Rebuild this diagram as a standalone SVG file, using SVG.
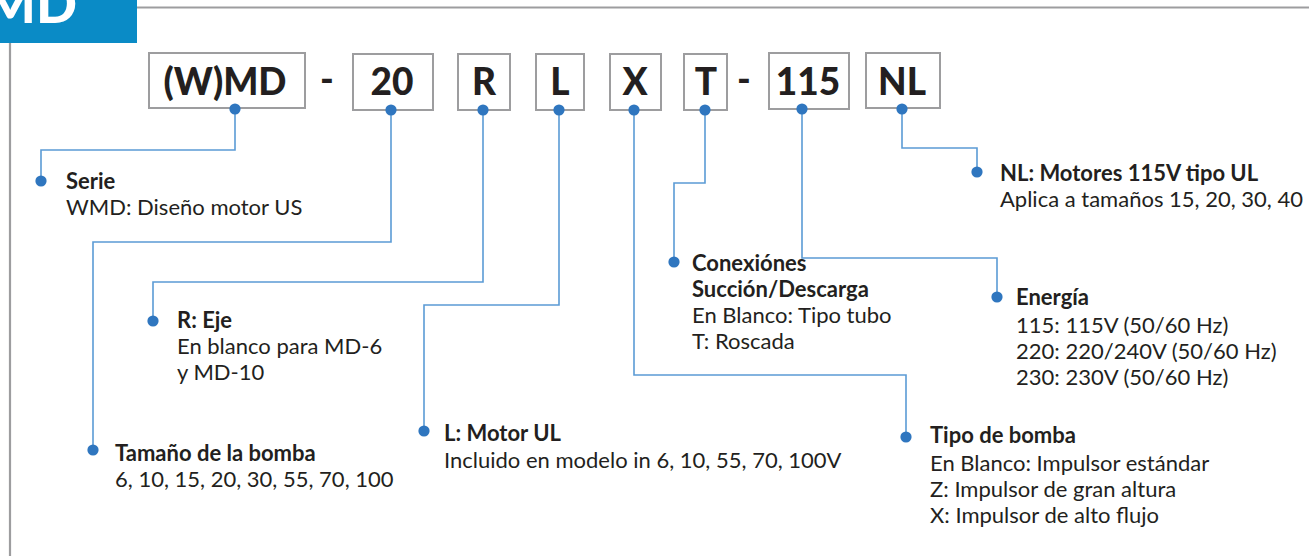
<svg xmlns="http://www.w3.org/2000/svg" width="1309" height="556" viewBox="0 0 1309 556">
<style>
.frame{stroke:#9d9d9f;stroke-width:2.2;fill:none}
.box{fill:#fff;stroke:#9d9d9f;stroke-width:2}
.code{font-family:Lato,"Open Sans",sans-serif;font-weight:900;font-size:37px;fill:#231f20;text-anchor:middle}
.t{font-family:Lato,"Open Sans",sans-serif;font-size:22px;fill:#231f20}
.b{font-weight:700}
.con{fill:none;stroke:#5b9bd5;stroke-width:1.6;marker-start:url(#dot);marker-end:url(#dot)}
</style>
<defs>
<marker id="dot" viewBox="0 0 12 12" refX="6" refY="6" markerWidth="12" markerHeight="12" markerUnits="userSpaceOnUse"><circle cx="6" cy="6" r="5.6" fill="#2f76bf"/></marker>
<clipPath id="clipBlue"><rect x="0" y="0" width="137" height="43"/></clipPath>
</defs>
<rect width="1309" height="556" fill="#fff"/>
<g id="frame">
<rect x="0" y="0" width="137" height="43" fill="#0a8bc6"/>
<text x="77" y="23" clip-path="url(#clipBlue)" font-family="Lato, Open Sans, sans-serif" font-weight="900" font-size="54" fill="#fff" text-anchor="end">MD</text>
<line class="frame" x1="137" y1="7.5" x2="1309" y2="7.5"/>
<line class="frame" x1="10" y1="43" x2="10" y2="556"/>
</g>
<g id="code-wmd"><rect class="box" x="149" y="53" width="156" height="55"/><text class="code" x="225" y="95">(W)MD</text></g>
<g id="dash1"><text class="code" x="327" y="92">-</text></g>
<g id="code-20"><rect class="box" x="353" y="54" width="80" height="56"/><text class="code" x="392" y="95">20</text></g>
<g id="code-r"><rect class="box" x="458" y="54" width="52" height="56"/><text class="code" x="484" y="95">R</text></g>
<g id="code-l"><rect class="box" x="536" y="54" width="48" height="56"/><text class="code" x="560" y="95">L</text></g>
<g id="code-x"><rect class="box" x="610" y="54" width="51" height="56"/><text class="code" x="635" y="95">X</text></g>
<g id="code-t"><rect class="box" x="684" y="54" width="43" height="56"/><text class="code" x="706" y="95">T</text></g>
<g id="dash2"><text class="code" x="744" y="92">-</text></g>
<g id="code-115"><rect class="box" x="769" y="53" width="80" height="56"/><text class="code" x="808" y="95">115</text></g>
<g id="code-nl"><rect class="box" x="866" y="53" width="74" height="55"/><text class="code" x="902" y="95">NL</text></g>
<g id="connectors">
<polyline class="con" points="235,109 235,150 41,150 41,181"/>
<polyline class="con" points="391,110 391,242 93,242 93,450"/>
<polyline class="con" points="483,110 483,282 153,282 153,321"/>
<polyline class="con" points="559,110 559,305 424,305 424,431"/>
<polyline class="con" points="634,110 634,375 906,375 906,437"/>
<polyline class="con" points="705,110 705,183 674,183 674,262"/>
<polyline class="con" points="802,109 802,258 997,258 997,297"/>
<polyline class="con" points="902,109 902,148 977,148 977,172"/>
</g>
<g id="serie"><text class="t" x="66" y="189"><tspan class="b">Serie</tspan><tspan x="66" dy="26">WMD: Diseño motor US</tspan></text></g>
<g id="eje"><text class="t" x="177" y="328"><tspan class="b">R: Eje</tspan><tspan x="177" dy="26">En blanco para MD-6</tspan><tspan x="177" dy="26">y MD-10</tspan></text></g>
<g id="tamano"><text class="t" x="115" y="461"><tspan class="b">Tamaño de la bomba</tspan><tspan x="115" dy="26">6, 10, 15, 20, 30, 55, 70, 100</tspan></text></g>
<g id="motor"><text class="t" x="444" y="441"><tspan class="b">L: Motor UL</tspan><tspan x="444" dy="27">Incluido en modelo in 6, 10, 55, 70, 100V</tspan></text></g>
<g id="conexiones"><text class="t" x="692" y="271"><tspan class="b">Conexiónes</tspan><tspan class="b" x="692" dy="26">Succión/Descarga</tspan><tspan x="692" dy="26">En Blanco: Tipo tubo</tspan><tspan x="692" dy="26">T: Roscada</tspan></text></g>
<g id="energia"><text class="t" x="1016" y="305"><tspan class="b">Energía</tspan><tspan x="1016" dy="28">115: 115V (50/60 Hz)</tspan><tspan x="1016" dy="26">220: 220/240V (50/60 Hz)</tspan><tspan x="1016" dy="26">230: 230V (50/60 Hz)</tspan></text></g>
<g id="nl"><text class="t" x="1000" y="181"><tspan class="b">NL: Motores 115V tipo UL</tspan><tspan x="1000" dy="26">Aplica a tamaños 15, 20, 30, 40</tspan></text></g>
<g id="tipo"><text class="t" x="930" y="443"><tspan class="b">Tipo de bomba</tspan><tspan x="930" dy="28">En Blanco: Impulsor estándar</tspan><tspan x="930" dy="26">Z: Impulsor de gran altura</tspan><tspan x="930" dy="26">X: Impulsor de alto flujo</tspan></text></g>
</svg>
